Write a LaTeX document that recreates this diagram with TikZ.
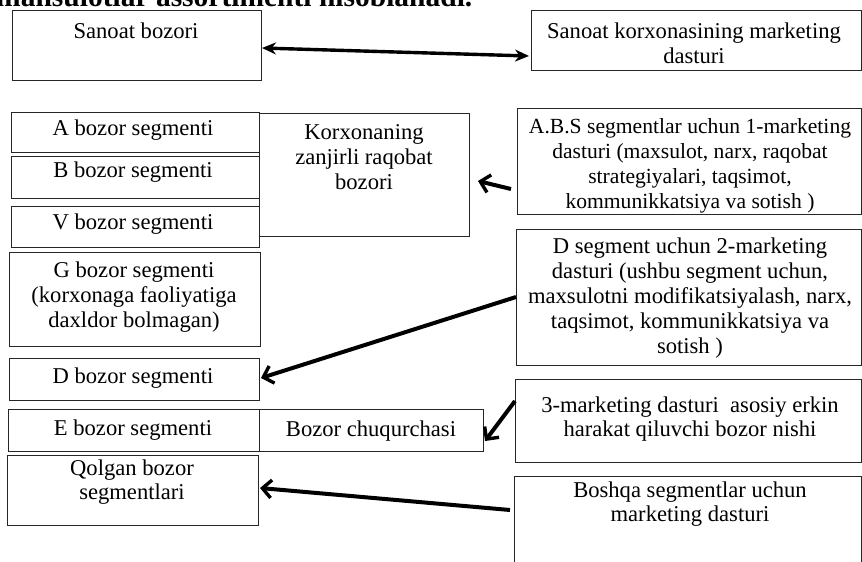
\documentclass[tikz,border=0pt]{standalone}
\usepackage{fontspec}
\setmainfont{Liberation Serif}
\usetikzlibrary{arrows.meta}
\begin{document}
\begin{tikzpicture}[x=1pt,y=-1pt,
  box/.style={draw=black!85, line width=0.9pt, anchor=north west, inner sep=0pt, outer sep=0pt},
  txt/.style={align=center, inner sep=0pt, font=\fontsize{22.6}{24.8}\selectfont},
  narrowtxt/.style={txt, font=\fontsize{21.6}{24.8}\selectfont},
  link/.style={line width=4pt, -{Straight Barb[length=9pt,width=18pt,line width=3.4pt]}},
  biglink/.style={line width=3.4pt, {Stealth[length=14pt,width=12pt]}-{Stealth[length=14pt,width=12pt]}}]
\useasboundingbox (0,0) rectangle (862,562);
\clip (0,0) rectangle (862,562);

% heading line running off the top edge
\node[anchor=base west, inner sep=0pt, font=\bfseries\fontsize{29.5}{32}\selectfont] (hdr) at (-4,6) {mahsulotlar assortimenti hisoblanadi.};

% left column: market and its segments
\node[box, minimum width=249pt, minimum height=70pt] (sb) at (12,10) {};
\node[box, minimum width=248pt, minimum height=40pt] (sa) at (11,112) {};
\node[box, minimum width=248pt, minimum height=42pt] (sbb) at (11,156) {};
\node[box, minimum width=248pt, minimum height=41pt] (sv) at (11,206) {};
\node[box, minimum width=210pt, minimum height=123pt] (kz) at (259,113) {};
\node[box, minimum width=251pt, minimum height=94pt] (sg) at (9,252) {};
\node[box, minimum width=250pt, minimum height=42pt] (sd) at (9,358) {};
\node[box, minimum width=251pt, minimum height=42pt] (se) at (8,409) {};
\node[box, minimum width=224pt, minimum height=42pt] (bc) at (259,409) {};
\node[box, minimum width=251pt, minimum height=70pt] (sq) at (7,455) {};

% right column: marketing programmes
\node[box, minimum width=330pt, minimum height=60pt] (mk) at (531,10) {};
\node[box, minimum width=344pt, minimum height=106pt] (m1) at (517,108) {};
\node[box, minimum width=345pt, minimum height=136pt] (m2) at (516,229) {};
\node[box, minimum width=346pt, minimum height=83pt] (m3) at (515,379) {};
\node[box, minimum width=347pt, minimum height=110pt] (m4) at (514,476) {};

% labels
\node[txt] (tsb) at (136,31) {Sanoat bozori};
\node[txt] (tsa) at (133,130) {A bozor segmenti};
\node[txt] (tsbb) at (133,172) {B bozor segmenti};
\node[txt] (tsv) at (133,224) {V bozor segmenti};
\node[txt] (tkz) at (364,157) {Korxonaning\\zanjirli raqobat\\bozori};
\node[txt] (tsg) at (134,297) {G bozor segmenti\\(korxonaga faoliyatiga\\daxldor bolmagan)};
\node[txt] (tsd) at (133,378) {D bozor segmenti};
\node[txt] (tse) at (133,430) {E bozor segmenti};
\node[txt] (tbc) at (371,431) {Bozor chuqurchasi};
\node[txt] (tsq) at (132,482) {Qolgan bozor\\segmentlari};
\node[txt] (tmk) at (694,43) {Sanoat korxonasining marketing\\dasturi};
\node[narrowtxt] (tm1) at (690,166) {A.B.S segmentlar uchun 1-marketing\\dasturi (maxsulot, narx, raqobat\\strategiyalari, taqsimot,\\kommunikkatsiya va sotish )};
\node[txt] (tm2) at (690,298) {D segment uchun 2-marketing\\dasturi (ushbu segment uchun,\\maxsulotni modifikatsiyalash, narx,\\taqsimot, kommunikkatsiya va\\sotish )};
\node[txt] (tm3) at (690,419) {3-marketing dasturi\ \ asosiy erkin\\harakat qiluvchi bozor nishi};
\node[txt] (tm4) at (690,504) {Boshqa segmentlar uchun\\marketing dasturi};

% connector end points
\coordinate (c0a) at (262,48);
\coordinate (c0b) at (529,56);
\coordinate (c1a) at (511,189);
\coordinate (c1b) at (478,181);
\coordinate (c2a) at (516,297);
\coordinate (c2b) at (261,378);
\coordinate (c3a) at (515,401);
\coordinate (c3b) at (485,441);
\coordinate (c4a) at (510,510);
\coordinate (c4b) at (260,488);

% connectors
\draw[biglink] (c0a) -- (c0b);
\draw[link] (c1a) -- (c1b);
\draw[link] (c2a) -- (c2b);
\draw[link] (c3a) -- (c3b);
\draw[link] (c4a) -- (c4b);
\end{tikzpicture}
\end{document}
